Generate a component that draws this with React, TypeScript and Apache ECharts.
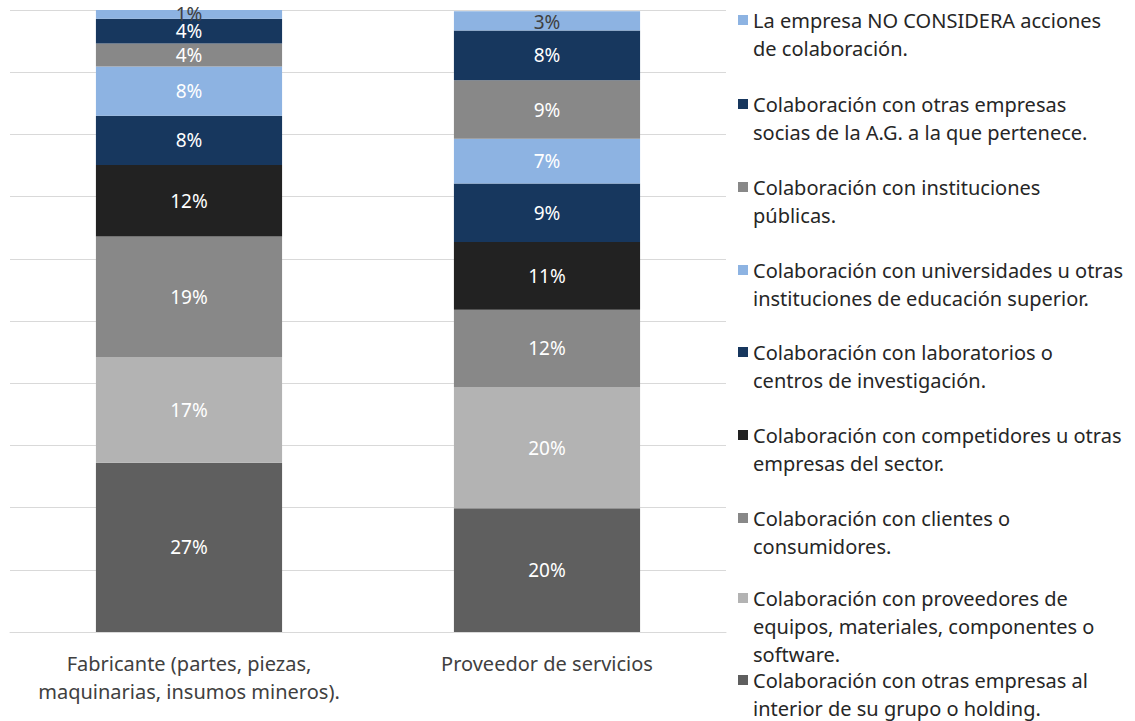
import React, { useEffect, useRef } from "react";
import * as echarts from "echarts";

// Categories (x axis)
const categories = [
  "Fabricante (partes, piezas,\nmaquinarias, insumos mineros).",
  "Proveedor de servicios",
];

// Series names (bottom of stack first), with legend line breaks
const seriesLabels = [
  "Colaboración con otras empresas al\ninterior de su grupo o holding.",
  "Colaboración con proveedores de\nequipos, materiales, componentes o\nsoftware.",
  "Colaboración con clientes o\nconsumidores.",
  "Colaboración con competidores u otras\nempresas del sector.",
  "Colaboración con laboratorios o\ncentros de investigación.",
  "Colaboración con universidades u otras\ninstituciones de educación superior.",
  "Colaboración con instituciones\npúblicas.",
  "Colaboración con otras empresas\nsocias de la A.G. a la que pertenece.",
  "La empresa NO CONSIDERA acciones\nde colaboración.",
];

// Values in percent for [Fabricante, Proveedor de servicios]
const grupo = [27.2, 19.9];
const proveedores = [17.0, 19.5];
const clientes = [19.4, 12.4];
const competidores = [11.5, 10.9];
const laboratorios = [7.9, 9.4];
const universidades = [7.9, 7.2];
const instituciones = [3.7, 9.4];
const socias = [4.0, 8.0];
const noConsidera = [1.4, 3.1];

const seriesValues = [
  grupo,
  proveedores,
  clientes,
  competidores,
  laboratorios,
  universidades,
  instituciones,
  socias,
  noConsidera,
];

const seriesColors = [
  "#5F5F5F",
  "#B3B3B3",
  "#888888",
  "#222222",
  "#17375E",
  "#8DB3E2",
  "#888888",
  "#17375E",
  "#8DB3E2",
];

const labelColors = [
  "#FFFFFF",
  "#FFFFFF",
  "#FFFFFF",
  "#FFFFFF",
  "#FFFFFF",
  "#FFFFFF",
  "#FFFFFF",
  "#FFFFFF",
  "#404040",
];

const FONT = "'Noto Sans', 'Open Sans', sans-serif";

export default function App() {
  const ref = useRef<HTMLDivElement>(null);

  useEffect(() => {
    if (!ref.current) return;
    const chart = echarts.init(ref.current, null, { renderer: "svg" });

    const lastIdx = seriesLabels.length - 1;
    const series = seriesLabels.map((lab, i) => ({
      name: lab.replace(/\n/g, " "),
      type: "bar",
      stack: "total",
      barWidth: "52%",
      data: seriesValues[i].map((v, j) =>
        i === lastIdx && j === 1
          ? { value: v, label: { offset: [0, 1] } }
          : v
      ),
      itemStyle: { color: seriesColors[i] },
      label: {
        show: true,
        position: "inside",
        color: labelColors[i],
        fontFamily: FONT,
        fontSize: 19,
        formatter: (p: any) => Math.round(p.value) + "%",
      },
    }));

    // Legend drawn top-to-bottom (reverse of stack order)
    const legendCenters = [20, 104, 187, 270, 352, 435, 518, 598, 680];
    const legendGraphics: any[] = [];
    const order = seriesLabels.map((_, i) => lastIdx - i);
    order.forEach((si, k) => {
      const cy = legendCenters[k];
      legendGraphics.push({
        type: "rect",
        shape: { x: 738, y: cy - 5, width: 10, height: 10 },
        style: { fill: seriesColors[si] },
      });
      legendGraphics.push({
        type: "text",
        x: 753,
        y: cy - 14,
        style: {
          text: seriesLabels[si],
          fill: "#262626",
          font: `20px ${FONT}`,
          lineHeight: 28,
          verticalAlign: "top",
          align: "left",
        },
      });
    });

    chart.setOption({
      animation: false,
      backgroundColor: "#FFFFFF",
      grid: { left: 10, right: 409, top: 10, bottom: 89, containLabel: false },
      xAxis: {
        type: "category",
        data: categories,
        axisLine: { show: true, lineStyle: { color: "#D9D9D9", width: 1 } },
        axisTick: { show: false },
        axisLabel: {
          color: "#404040",
          fontFamily: FONT,
          fontSize: 20,
          lineHeight: 28,
          margin: 17,
          interval: 0,
        },
      },
      yAxis: {
        type: "value",
        min: 0,
        max: 100,
        interval: 10,
        axisLabel: { show: false },
        axisLine: { show: false },
        axisTick: { show: false },
        splitLine: { show: true, lineStyle: { color: "#D9D9D9", width: 1 } },
      },
      series,
      graphic: legendGraphics,
    });

    return () => chart.dispose();
  }, []);

  return (
    <div
      ref={ref}
      style={{ position: "fixed", left: 0, top: 0, width: 1135, height: 721 }}
    />
  );
}
